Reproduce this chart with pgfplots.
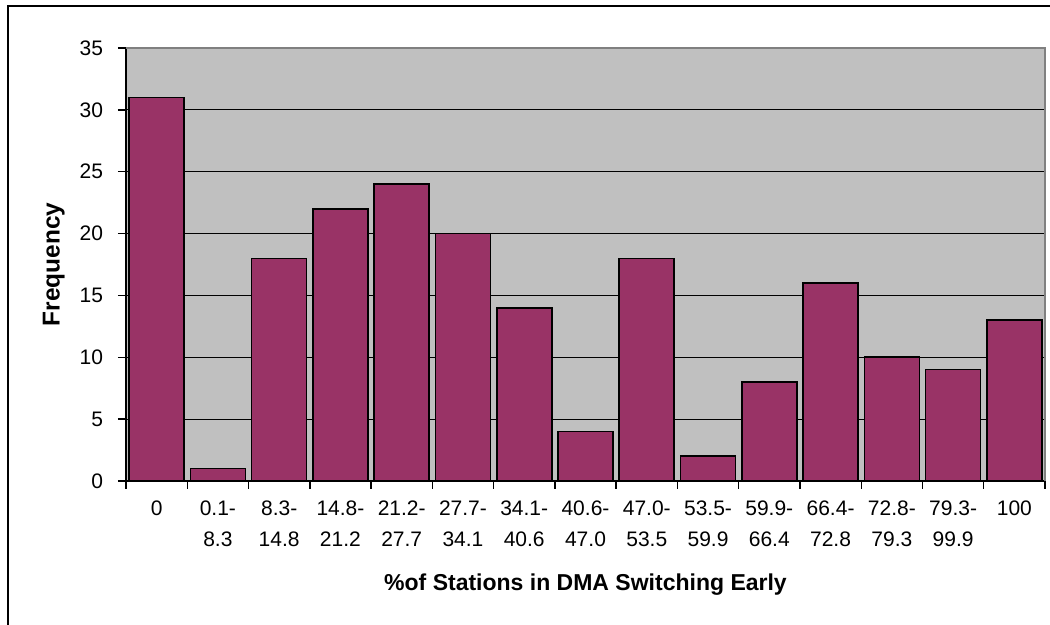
\documentclass[border=0pt]{standalone}
\usepackage{pgfplots}
\pgfplotsset{compat=1.18}
\usepackage{fontspec}
\setmainfont{Liberation Sans}
\definecolor{barplum}{HTML}{993366}
\definecolor{wallgray}{HTML}{C0C0C0}
\definecolor{edgegray}{HTML}{808080}
\begin{document}
\begin{tikzpicture}
\useasboundingbox (0,0) rectangle (525pt,312.5pt);
% chart frame
\draw[line width=1pt] (3.75pt,309.25pt) rectangle (540pt,-10pt);
\begin{axis}[
  at={(63pt,72pt)}, anchor=south west,
  scale only axis, width=459.5pt, height=216.5pt,
  xmin=-0.5, xmax=14.5, ymin=0, ymax=35,
  axis lines*=left,
  axis line style={-, line width=0.8pt, black},
  axis background/.style={fill=wallgray},
  ytick={0,5,...,35},
  xtick={0,...,14},
  xticklabels={0,{0.1-\\8.3},{8.3-\\14.8},{14.8-\\21.2},{21.2-\\27.7},{27.7-\\34.1},{34.1-\\40.6},{40.6-\\47.0},{47.0-\\53.5},{53.5-\\59.9},{59.9-\\66.4},{66.4-\\72.8},{72.8-\\79.3},{79.3-\\99.9},100},
  minor xtick={-0.5,0.5,...,14.5},
  tick align=outside, major tick length=4pt, minor tick length=4pt,
  every tick/.style={black, line width=0.7pt},
  every major x tick/.append style={draw=none},
  ymajorgrids, grid style={black, line width=0.6pt},
  /pgf/number format/assume math mode=true,
  yticklabel style={font=\fontsize{10.5}{12}\selectfont, xshift=-4pt},
  xticklabel style={font=\fontsize{10.5}{15.5}\selectfont, align=center, yshift=-2.5pt},
  xlabel={\%of Stations in DMA Switching Early},
  ylabel={Frequency},
  x label style={at={(axis description cs:0.5,-0.2402)}, anchor=center, font=\bfseries\fontsize{11.5}{13}\selectfont},
  y label style={at={(axis description cs:-0.0785,0.5)}, anchor=center, font=\bfseries\fontsize{12.2}{13}\selectfont},
  after end axis/.code={\draw[edgegray, line width=0.9pt] (rel axis cs:0,1) -- (rel axis cs:1,1) -- (rel axis cs:1,0);},
]
\addplot[ybar, bar width=27.5pt, fill=barplum, draw=black, line width=0.8pt]
  coordinates {(0,31) (1,1) (2,18) (3,22) (4,24) (5,20) (6,14) (7,4)
               (8,18) (9,2) (10,8) (11,16) (12,10) (13,9) (14,13)};
\end{axis}
\end{tikzpicture}
\end{document}
